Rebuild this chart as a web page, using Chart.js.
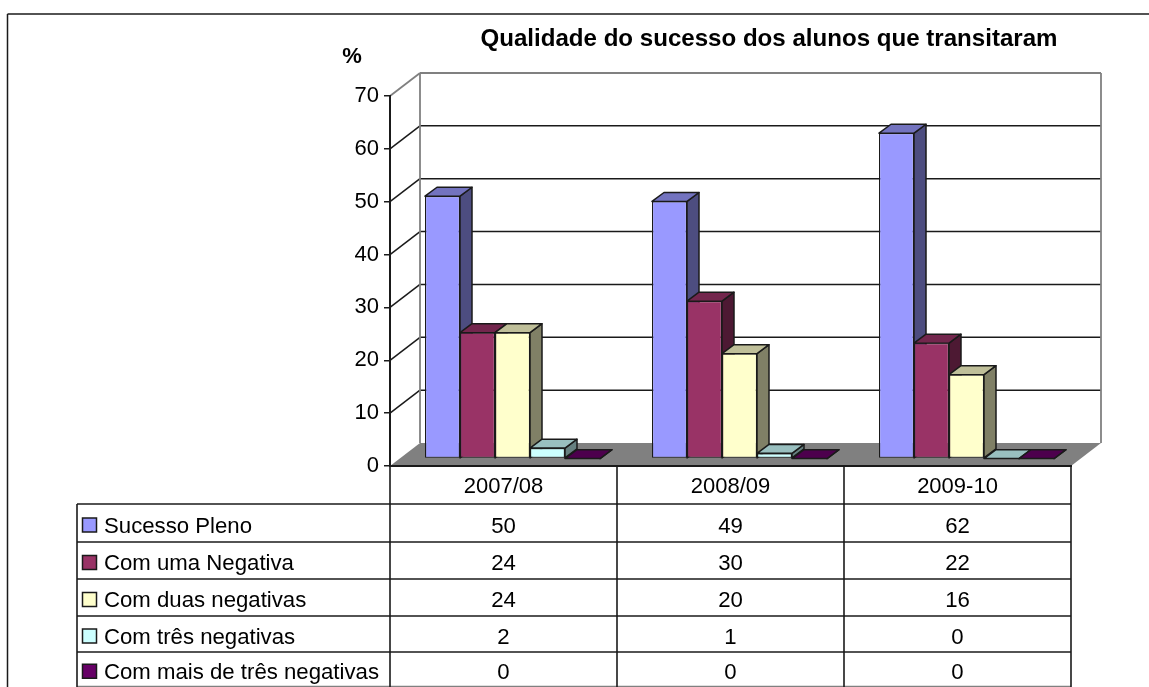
<!DOCTYPE html>
<html lang="pt">
<head>
<meta charset="utf-8">
<title>Qualidade do sucesso dos alunos que transitaram</title>
<script src="https://cdn.jsdelivr.net/npm/chart.js@4/dist/chart.umd.min.js"></script>
<style>
    html, body { margin: 0; padding: 0; background: #fff; overflow: hidden; }
    canvas { display: block; }
</style>
</head>
<body>
<canvas id="qualidadeChart" width="1149" height="687"></canvas>
<script>
// ============================================
// DATA
// ============================================
const anos = ['2007/08', '2008/09', '2009-10'];
const sucessoPleno = [50, 49, 62];
const comUmaNegativa = [24, 30, 22];
const comDuasNegativas = [24, 20, 16];
const comTresNegativas = [2, 1, 0];
const comMaisDeTres = [0, 0, 0];
const seriesNames = ['Sucesso Pleno', 'Com uma Negativa', 'Com duas negativas', 'Com três negativas', 'Com mais de três negativas'];
const yTicks = [0, 10, 20, 30, 40, 50, 60, 70];
const chartTitle = 'Qualidade do sucesso dos alunos que transitaram';
const yUnit = '%';

// ============================================
// STYLE / LAYOUT
// ============================================
const frontColors = ['#9999FF', '#993366', '#FFFFCC', '#CCFFFF', '#660066'];
const topColors = ['#7373BF', '#73264D', '#BFBF99', '#99BFBF', '#4D004D'];
const sideColors = ['#4D4D80', '#4D1933', '#808066', '#668080', '#330033'];
const lineColor = '#1a1a1a';
const wallColor = '#808080';
const fontName = '"Liberation Sans", Arial, sans-serif';

const wallDx = 30, wallDy = -23;     // oblique offset of the back wall
const barDx = 9, barDy = -7.4;       // bars stand inside the floor
const barScaleY = 0.993;
const depthDx = 12, depthDy = -9;    // depth of one bar
const tableLeft = 77;
const rowLines = [504, 542, 579, 616, 652, 686.5];

// ============================================
// PLUGIN: 3D walls, bar depth, data table
// ============================================
function applyBarPlane(ctx, chart) {
    const y0 = chart.scales.y.getPixelForValue(0);
    ctx.translate(barDx, barDy + y0 * (1 - barScaleY));
    ctx.scale(1, barScaleY);
}

function drawLine(ctx, x1, y1, x2, y2, color, width) {
    ctx.beginPath();
    ctx.moveTo(x1, y1);
    ctx.lineTo(x2, y2);
    ctx.strokeStyle = color;
    ctx.lineWidth = width;
    ctx.stroke();
}

function drawFace(ctx, points, fill) {
    ctx.beginPath();
    points.forEach((p, i) => i ? ctx.lineTo(p[0], p[1]) : ctx.moveTo(p[0], p[1]));
    ctx.closePath();
    ctx.fillStyle = fill;
    ctx.fill();
    ctx.strokeStyle = lineColor;
    ctx.lineWidth = 1.5;
    ctx.lineJoin = 'round';
    ctx.stroke();
}

const walls3d = {
    id: 'walls3d',
    beforeDraw(chart) {
        const { ctx, chartArea: a, scales: { y } } = chart;
        const y0 = y.getPixelForValue(0);
        ctx.save();

        // outer frame, only top and left are in the picture
        drawLine(ctx, 7.5, 14, chart.width, 14, lineColor, 1.5);
        drawLine(ctx, 7.5, 14, 7.5, chart.height, lineColor, 1.5);

        // floor
        ctx.beginPath();
        ctx.moveTo(a.left, y0);
        ctx.lineTo(a.right, y0);
        ctx.lineTo(a.right + wallDx, y0 + wallDy);
        ctx.lineTo(a.left + wallDx, y0 + wallDy);
        ctx.closePath();
        ctx.fillStyle = wallColor;
        ctx.fill();

        // grid lines on side and back wall
        yTicks.forEach(v => {
            if (v === 0) return;
            const py = y.getPixelForValue(v);
            const color = v === 70 ? wallColor : lineColor;
            const width = v === 70 ? 1.8 : 1.5;
            drawLine(ctx, a.left, py, a.left + wallDx, py + wallDy, color, width);
            drawLine(ctx, a.left + wallDx, py + wallDy, a.right + wallDx, py + wallDy, color, width);
        });

        // back wall edges
        const wallTop = y.getPixelForValue(70) + wallDy;
        drawLine(ctx, a.left + wallDx, wallTop, a.left + wallDx, y0 + wallDy, wallColor, 1.8);
        drawLine(ctx, a.right + wallDx, wallTop, a.right + wallDx, y0 + wallDy, wallColor, 1.8);
        ctx.restore();
    },
    beforeDatasetsDraw(chart) {
        const { ctx } = chart;
        ctx.save();
        applyBarPlane(ctx, chart);

        // top and side of each bar, left to right so later bars cover earlier sides
        anos.forEach((_, i) => {
            chart.data.datasets.forEach((ds, d) => {
                const bar = chart.getDatasetMeta(d).data[i];
                const left = bar.x - bar.width / 2;
                const right = bar.x + bar.width / 2;
                drawFace(ctx, [
                    [right, bar.y], [right + depthDx, bar.y + depthDy],
                    [right + depthDx, bar.base + depthDy], [right, bar.base]
                ], sideColors[d]);
                drawFace(ctx, [
                    [left, bar.y], [left + depthDx, bar.y + depthDy],
                    [right + depthDx, bar.y + depthDy], [right, bar.y]
                ], topColors[d]);
            });
        });

        // the fronts that follow go through the same plane
        ctx.restore();
        ctx.save();
        applyBarPlane(ctx, chart);
    },
    afterDatasetsDraw(chart) {
        const { ctx } = chart;
        ctx.restore();
        drawTable(chart, ctx);
        drawTexts(chart, ctx);
    }
};

function drawTable(chart, ctx) {
    const { chartArea: a, scales: { x } } = chart;
    const y0 = chart.scales.y.getPixelForValue(0);
    ctx.save();

    // horizontal rules
    rowLines.forEach((ry, r) => {
        const last = r === rowLines.length - 1;
        drawLine(ctx, tableLeft, ry, a.right, ry, last ? wallColor : lineColor, 1.6);
    });
    drawLine(ctx, tableLeft, rowLines[0], tableLeft, chart.height, lineColor, 1.6);

    // column dividers
    const colEdges = [a.left];
    anos.forEach((_, i) => colEdges.push(x.getPixelForTick(i) + (a.right - a.left) / anos.length / 2));
    colEdges.forEach(cx => drawLine(ctx, cx, y0, cx, chart.height, lineColor, 1.6));

    // rows: swatch, series name, one value per year
    ctx.font = '22.2px ' + fontName;
    ctx.textBaseline = 'middle';
    chart.data.datasets.forEach((ds, d) => {
        const midY = (rowLines[d] + rowLines[d + 1]) / 2 + 2;
        ctx.fillStyle = frontColors[d];
        ctx.strokeStyle = lineColor;
        ctx.lineWidth = 1.5;
        ctx.fillRect(82.5, midY - 7, 14, 14);
        ctx.strokeRect(82.5, midY - 7, 14, 14);

        ctx.fillStyle = '#000';
        ctx.textAlign = 'left';
        ctx.fillText(seriesNames[d], 104, midY + 1.5);
        ctx.textAlign = 'center';
        ds.data.forEach((v, i) => ctx.fillText(String(v), x.getPixelForTick(i), midY + 1.5));
    });
    ctx.restore();
}

function drawTexts(chart, ctx) {
    ctx.save();
    ctx.fillStyle = '#000';
    ctx.textBaseline = 'middle';
    ctx.textAlign = 'center';
    ctx.font = 'bold 24.1px ' + fontName;
    ctx.fillText(chartTitle, 769, 39);
    ctx.font = 'bold 22px ' + fontName;
    ctx.fillText(yUnit, 352, 57);
    ctx.restore();
}

// ============================================
// CHART
// ============================================
const allSeries = [sucessoPleno, comUmaNegativa, comDuasNegativas, comTresNegativas, comMaisDeTres];

new Chart(document.getElementById('qualidadeChart'), {
    type: 'bar',
    data: {
        labels: anos,
        datasets: allSeries.map((values, i) => ({
            label: seriesNames[i],
            data: values,
            backgroundColor: frontColors[i],
            borderColor: lineColor,
            borderWidth: 1.2,
            borderSkipped: false,
            categoryPercentage: 175 / 227,
            barPercentage: 1
        }))
    },
    options: {
        responsive: false,
        animation: false,
        layout: {
            autoPadding: false,
            padding: { left: 350, right: 78, top: 96, bottom: 0 }
        },
        plugins: {
            legend: { display: false },
            title: { display: false },
            tooltip: { enabled: false }
        },
        scales: {
            x: {
                afterFit(scale) { scale.height = 221; },
                border: { color: lineColor, width: 2 },
                grid: { display: false },
                ticks: { color: '#000', font: { family: fontName, size: 22 }, padding: 0, maxRotation: 0 }
            },
            y: {
                min: 0,
                max: 70,
                afterFit(scale) { scale.width = 40; },
                afterBuildTicks(scale) { scale.ticks = yTicks.map(v => ({ value: v })); },
                border: { color: lineColor, width: 2 },
                grid: { drawOnChartArea: false, drawTicks: true, tickLength: 6, color: lineColor, lineWidth: 1.5 },
                ticks: { color: '#000', font: { family: fontName, size: 22 }, padding: 5 }
            }
        }
    },
    plugins: [walls3d]
});
</script>
</body>
</html>
